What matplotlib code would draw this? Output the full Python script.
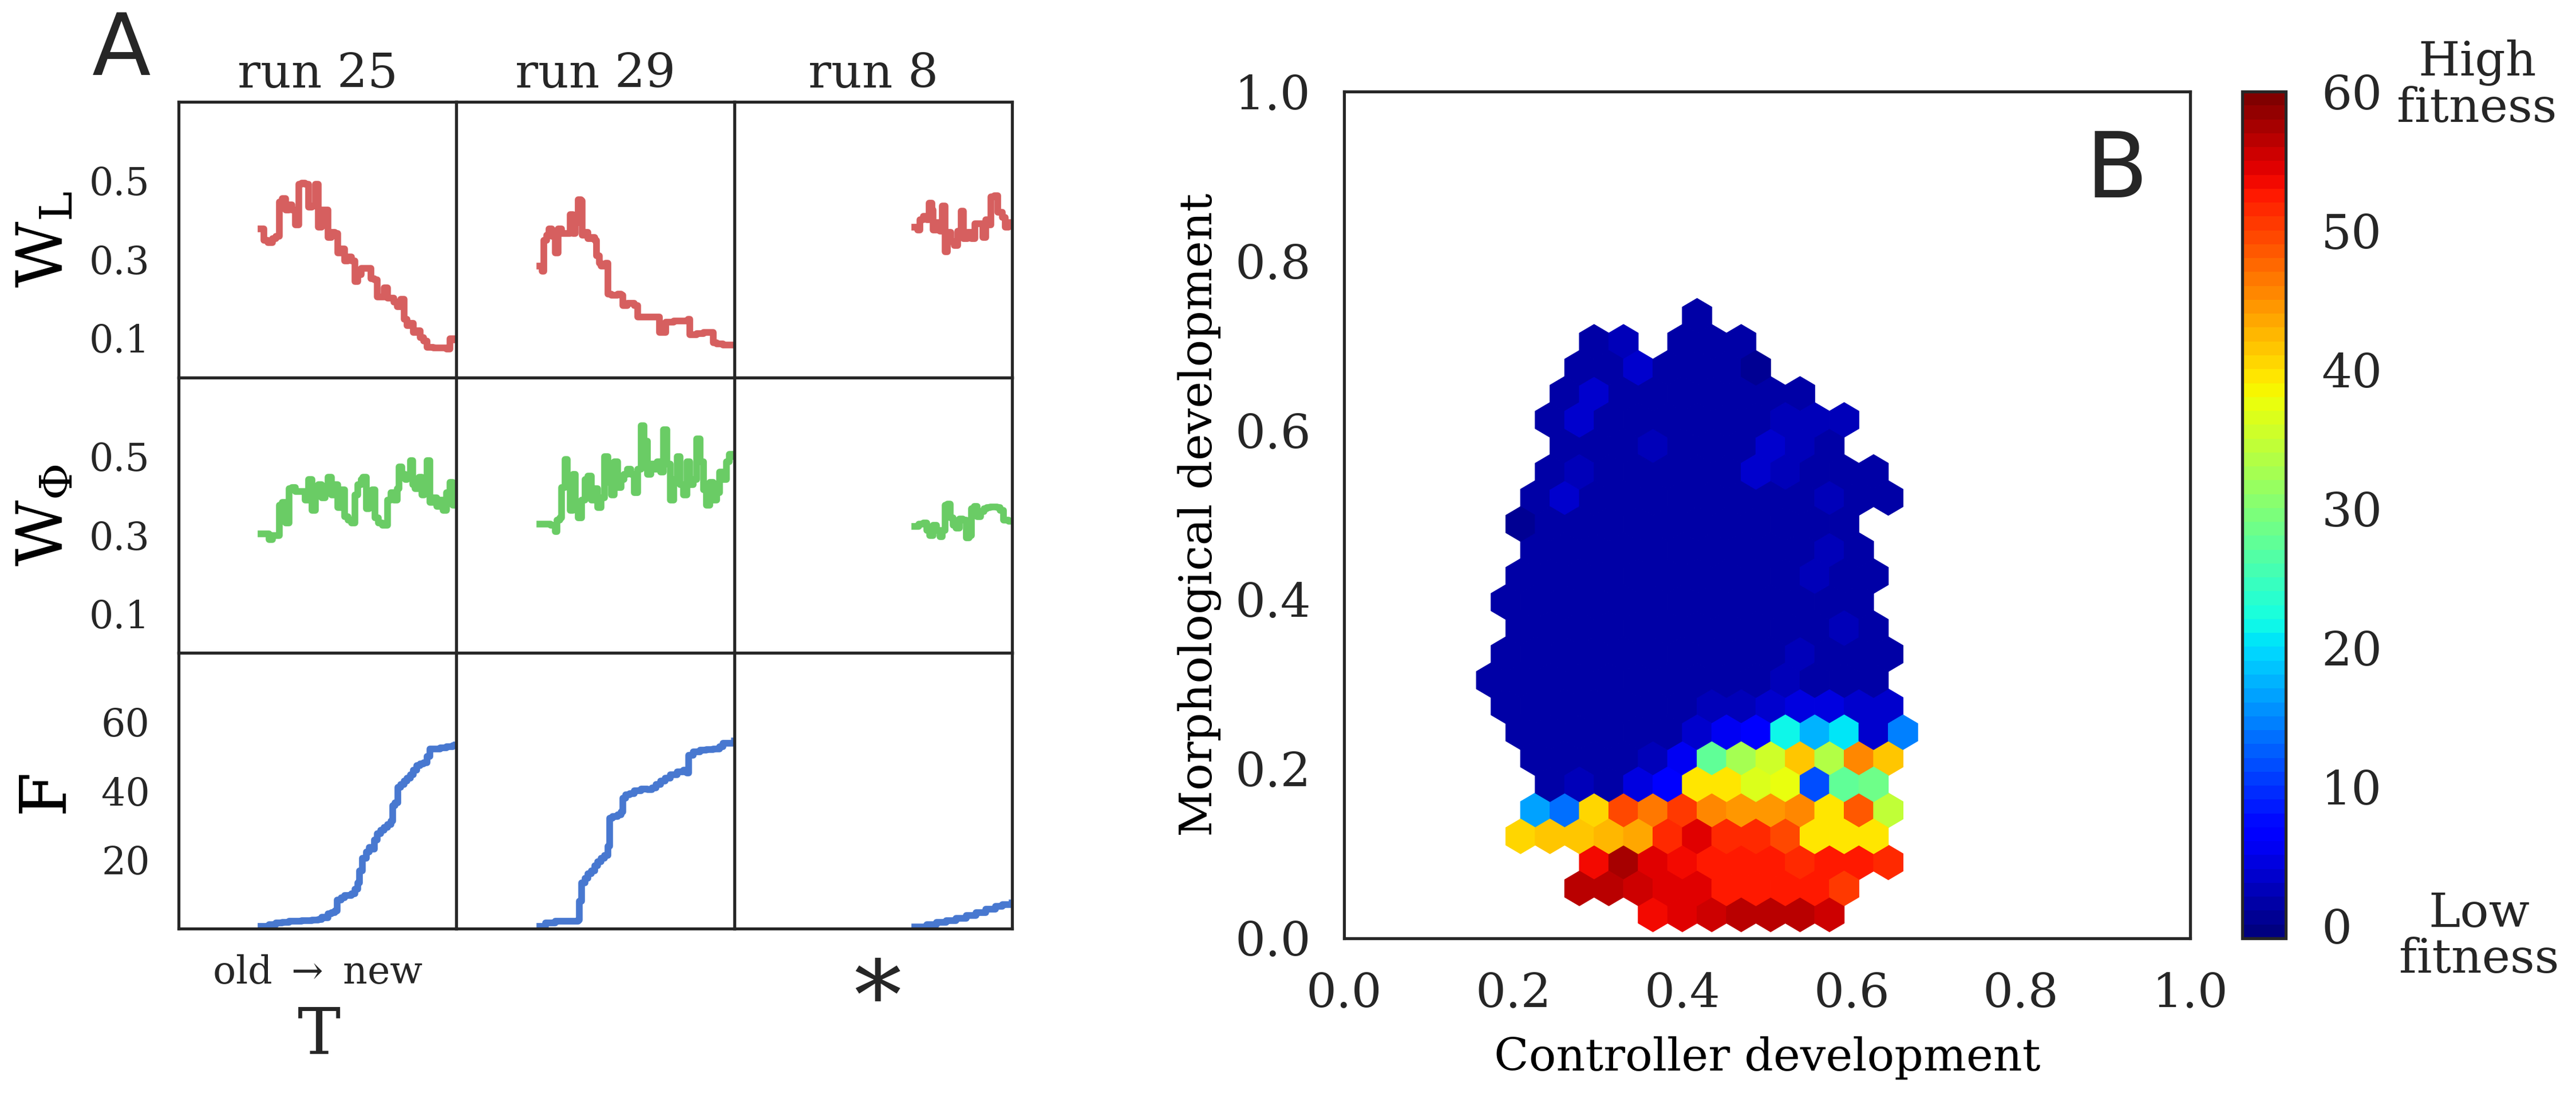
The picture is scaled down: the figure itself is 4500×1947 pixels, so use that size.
import numpy as np
import matplotlib
matplotlib.use("Agg")
import matplotlib.pyplot as plt

plt.rcParams["font.family"] = "serif"
plt.rcParams["font.serif"] = ["DejaVu Serif"]
plt.rcParams["mathtext.fontset"] = "dejavuserif"
plt.rcParams["axes.edgecolor"] = "#262626"
plt.rcParams["axes.linewidth"] = 1.25
plt.rcParams["text.color"] = "#262626"
plt.rcParams["xtick.color"] = "#262626"
plt.rcParams["ytick.color"] = "#262626"
plt.rcParams["xtick.major.size"] = 0
plt.rcParams["ytick.major.size"] = 0

RED, GREEN, BLUE = "#d65f5f", "#6acc65", "#4878d0"

run_names = ["run 25", "run 29", "run 8"]

# ---- panel A: time as % of the plotted window ----
wl25_t = [29.8, 30.7, 32.2, 33.8, 35.0, 36.2, 37.4, 38.5, 39.7, 40.9, 42.1, 43.3, 44.4, 45.6,
          46.8, 48.0, 49.2, 50.4, 51.5, 52.7, 53.9, 55.1, 56.3, 57.4, 58.6, 59.8, 61.0, 62.2,
          63.4, 64.5, 65.7, 68.1, 69.3, 70.4, 71.6, 72.8, 74.0, 75.2, 77.5, 78.7, 79.9, 81.1,
          82.3, 83.5, 84.6, 85.8, 87.0, 88.2, 89.4, 91.7, 94.1, 96.5, 97.6, 98.8, 100.0]
wl25 = [0.377, 0.348, 0.342, 0.352, 0.358, 0.446, 0.455, 0.426, 0.439, 0.426, 0.387, 0.491,
        0.494, 0.491, 0.433, 0.436, 0.491, 0.381, 0.426, 0.426, 0.355, 0.368, 0.365, 0.316,
        0.326, 0.296, 0.306, 0.296, 0.244, 0.261, 0.277, 0.277, 0.251, 0.248, 0.205, 0.205,
        0.228, 0.202, 0.192, 0.179, 0.199, 0.147, 0.131, 0.137, 0.114, 0.118, 0.101, 0.092,
        0.077, 0.075, 0.075, 0.072, 0.098, 0.098, 0.095]

wl29_t = [30.1, 30.8, 31.5, 32.5, 33.4, 34.4, 35.5, 36.7, 37.9, 39.1, 40.3, 41.0, 41.9, 42.9,
          43.8, 44.8, 45.3, 46.2, 47.4, 48.6, 49.8, 50.5, 51.4, 52.1, 53.8, 54.5, 55.7, 58.1,
          59.2, 60.0, 61.6, 64.0, 65.2, 67.5, 69.9, 72.3, 73.0, 74.6, 75.4, 78.2, 81.8, 83.4,
          84.1, 86.5, 88.9, 91.2, 92.4, 93.6, 96.0, 100.0]
wl29 = [0.283, 0.270, 0.348, 0.361, 0.377, 0.358, 0.316, 0.377, 0.365, 0.365, 0.365, 0.413,
        0.365, 0.394, 0.452, 0.449, 0.361, 0.368, 0.352, 0.355, 0.348, 0.309, 0.290, 0.283,
        0.290, 0.212, 0.209, 0.212, 0.209, 0.183, 0.189, 0.183, 0.153, 0.153, 0.153, 0.153,
        0.114, 0.114, 0.140, 0.144, 0.144, 0.147, 0.108, 0.111, 0.114, 0.114, 0.088, 0.085,
        0.082, 0.082]

wl8_t = [65.0, 66.0, 66.9, 68.1, 69.3, 70.2, 71.2, 71.6, 72.8, 74.0, 74.9, 75.9, 76.8, 78.0,
         79.2, 80.4, 81.6, 82.5, 83.9, 85.3, 86.5, 88.2, 89.4, 90.5, 91.5, 92.4, 93.6, 94.8,
         96.5, 97.6, 98.8, 100.0]
wl8 = [0.381, 0.374, 0.400, 0.410, 0.400, 0.442, 0.426, 0.374, 0.394, 0.371, 0.436, 0.319,
       0.368, 0.345, 0.335, 0.371, 0.423, 0.352, 0.368, 0.352, 0.391, 0.391, 0.355, 0.400,
       0.387, 0.459, 0.462, 0.420, 0.407, 0.381, 0.394, 0.387]

wp25_t = [29.8, 31.4, 32.6, 33.8, 35.0, 36.2, 37.4, 38.5, 39.7, 40.9, 42.1, 44.4, 45.6, 46.8,
          48.0, 49.2, 50.4, 51.5, 52.7, 53.9, 55.1, 56.3, 57.4, 58.6, 59.8, 61.0, 62.2, 63.4,
          64.5, 65.7, 66.4, 67.6, 68.6, 69.7, 70.7, 71.9, 73.3, 74.2, 75.2, 76.4, 77.5, 78.7,
          79.4, 80.4, 81.6, 82.3, 83.5, 84.2, 85.1, 86.5, 87.5, 88.4, 89.4, 90.5, 91.7, 92.9,
          94.1, 95.3, 96.5, 97.6, 98.8, 100.0]
wp25 = [0.303, 0.303, 0.288, 0.298, 0.298, 0.376, 0.382, 0.330, 0.418, 0.421, 0.410, 0.410,
        0.389, 0.441, 0.363, 0.402, 0.428, 0.395, 0.408, 0.447, 0.402, 0.428, 0.369, 0.415,
        0.347, 0.337, 0.330, 0.402, 0.428, 0.441, 0.447, 0.366, 0.402, 0.415, 0.343, 0.330,
        0.324, 0.324, 0.389, 0.408, 0.389, 0.418, 0.473, 0.454, 0.441, 0.447, 0.489, 0.428,
        0.418, 0.447, 0.402, 0.428, 0.489, 0.382, 0.395, 0.373, 0.389, 0.363, 0.408, 0.434,
        0.376, 0.408]

wp29_t = [30.1, 32.0, 33.9, 35.5, 36.3, 37.2, 37.9, 39.1, 40.0, 41.0, 41.9, 42.9, 43.8, 45.0,
          46.2, 47.4, 48.6, 49.8, 50.9, 52.1, 53.3, 54.5, 55.7, 56.9, 58.1, 59.2, 60.4, 61.6,
          62.8, 64.0, 65.2, 66.4, 67.5, 68.7, 69.9, 71.1, 72.3, 73.5, 74.6, 75.8, 77.0, 78.2,
          79.4, 80.6, 81.8, 82.9, 84.1, 85.3, 86.5, 87.7, 88.9, 90.0, 91.2, 92.4, 93.6, 94.8,
          96.0, 97.2, 98.3, 100.0]
wp29 = [0.327, 0.327, 0.324, 0.308, 0.337, 0.343, 0.421, 0.492, 0.428, 0.363, 0.454, 0.376,
        0.343, 0.389, 0.441, 0.450, 0.389, 0.418, 0.369, 0.395, 0.499, 0.434, 0.402, 0.486,
        0.421, 0.441, 0.454, 0.467, 0.454, 0.408, 0.467, 0.577, 0.538, 0.454, 0.480, 0.467,
        0.486, 0.460, 0.567, 0.480, 0.389, 0.441, 0.499, 0.428, 0.402, 0.486, 0.428, 0.441,
        0.544, 0.486, 0.415, 0.376, 0.434, 0.389, 0.408, 0.460, 0.441, 0.486, 0.505, 0.499]

wp8_t = [65.0, 66.4, 68.1, 69.3, 70.4, 71.6, 72.8, 74.0, 74.9, 75.9, 76.8, 77.8, 78.7, 79.9,
         81.1, 82.3, 83.5, 84.6, 85.3, 86.3, 87.5, 88.7, 89.8, 91.0, 92.2, 93.4, 94.6, 95.7,
         96.9, 98.8, 100.0]
wp8 = [0.321, 0.327, 0.330, 0.311, 0.298, 0.324, 0.311, 0.295, 0.311, 0.376, 0.379, 0.343,
       0.324, 0.318, 0.340, 0.337, 0.292, 0.298, 0.366, 0.373, 0.347, 0.360, 0.366, 0.369,
       0.371, 0.371, 0.369, 0.363, 0.337, 0.334, 0.334]

f25_t = [29.8, 32.6, 35.0, 37.4, 39.7, 44.4, 48.0, 50.4, 51.5, 52.7, 53.9, 55.1, 56.3, 57.0,
         58.6, 59.8, 62.2, 63.4, 64.5, 65.2, 66.2, 67.6, 68.6, 69.5, 70.4, 71.6, 72.8, 74.0,
         75.2, 76.4, 77.1, 78.0, 79.0, 79.9, 81.1, 82.3, 83.5, 84.6, 85.8, 87.0, 88.2, 89.4,
         90.5, 91.7, 94.1, 96.5, 98.8, 100.0]
f25 = [0.7, 1.2, 1.6, 1.8, 2.1, 2.3, 2.5, 2.7, 3.4, 3.2, 4.3, 4.7, 5.2, 8.3, 9.0, 9.7, 10.1,
       11.5, 13.3, 16.8, 20.4, 22.2, 23.6, 23.1, 25.8, 27.6, 28.5, 29.4, 30.3, 31.2, 35.7,
       36.6, 41.0, 41.9, 42.8, 43.7, 44.6, 46.0, 47.3, 47.8, 48.2, 50.0, 52.2, 52.2, 52.5,
       52.9, 53.1, 53.3]

f29_t = [30.1, 32.0, 35.5, 39.1, 42.7, 43.8, 44.3, 45.0, 46.2, 47.4, 48.6, 49.8, 50.9, 52.1,
         53.3, 54.5, 55.2, 56.2, 58.1, 59.2, 60.0, 60.9, 62.3, 64.0, 66.4, 68.7, 70.4, 71.8,
         73.5, 75.1, 77.0, 79.4, 81.8, 82.9, 83.6, 85.3, 87.7, 90.0, 92.4, 94.8, 96.0, 100.0]
f29 = [0.7, 1.6, 2.1, 2.1, 2.2, 2.5, 7.9, 13.3, 14.6, 15.9, 16.8, 18.2, 19.5, 20.4, 21.3,
       24.0, 32.1, 32.5, 33.0, 33.9, 37.9, 38.8, 39.2, 40.1, 40.6, 40.3, 40.9, 41.9, 42.8,
       43.7, 44.6, 45.5, 46.0, 45.1, 50.4, 51.3, 51.8, 52.0, 52.2, 52.9, 53.8, 54.5]

f8_t = [65.0, 69.3, 72.8, 76.4, 79.9, 83.5, 87.0, 90.5, 94.1, 96.5, 100.0]
f8 = [0.5, 1.2, 1.8, 2.3, 3.0, 3.9, 4.7, 5.6, 6.5, 7.0, 7.4]

# ---- panel B: hexagon cells (controller dev, morphological dev, mean fitness) ----
morph_rows = [0.028, 0.059, 0.090, 0.120, 0.151, 0.182, 0.213, 0.243, 0.274, 0.305, 0.336,
              0.366, 0.397, 0.428, 0.459, 0.489, 0.520, 0.551, 0.582, 0.612, 0.643, 0.674,
              0.705, 0.735]
ctrl_rows = [
    [.365, .400, .435, .469, .504, .539, .574],
    [.278, .313, .348, .382, .417, .452, .487, .522, .556, .591],
    [.295, .330, .365, .400, .435, .469, .504, .539, .574, .608, .643],
    [.208, .243, .278, .313, .348, .382, .417, .452, .487, .522, .556, .591, .626],
    [.226, .261, .295, .330, .365, .400, .435, .469, .504, .539, .574, .608, .643],
    [.243, .278, .313, .348, .382, .417, .452, .487, .522, .556, .591, .626],
    [.226, .261, .295, .330, .365, .400, .435, .469, .504, .539, .574, .608, .643],
    [.208, .243, .278, .313, .348, .382, .417, .452, .487, .522, .556, .591, .626, .661],
    [.191, .226, .261, .295, .330, .365, .400, .435, .469, .504, .539, .574, .608, .643],
    [.174, .208, .243, .278, .313, .348, .382, .417, .452, .487, .522, .556, .591, .626],
    [.191, .226, .261, .295, .330, .365, .400, .435, .469, .504, .539, .574, .608, .643],
    [.208, .243, .278, .313, .348, .382, .417, .452, .487, .522, .556, .591, .626],
    [.191, .226, .261, .295, .330, .365, .400, .435, .469, .504, .539, .574, .608],
    [.208, .243, .278, .313, .348, .382, .417, .452, .487, .522, .556, .591, .626],
    [.226, .261, .295, .330, .365, .400, .435, .469, .504, .539, .574, .608],
    [.208, .243, .278, .313, .348, .382, .417, .452, .487, .522, .556, .591],
    [.226, .261, .295, .330, .365, .400, .435, .469, .504, .539, .574, .608, .643],
    [.243, .278, .313, .348, .382, .417, .452, .487, .522, .556, .591, .626],
    [.261, .295, .330, .365, .400, .435, .469, .504, .539, .574],
    [.243, .278, .313, .348, .382, .417, .452, .487, .522, .556, .591],
    [.261, .295, .330, .365, .400, .435, .469, .504, .539],
    [.278, .313, .348, .382, .417, .452, .487],
    [.295, .330, .400, .435, .469],
    [.417],
]
fit_rows = [
    [53.5, 55, 56, 56.5, 57, 57, 56],
    [56.5, 56.5, 56, 55, 55, 53, 53, 53, 52.5, 50.5],
    [54, 58, 55, 54, 53, 52.5, 53, 52, 53, 52.5, 51.5],
    [40.5, 42, 41.5, 42.5, 43.5, 51.3, 54.5, 52, 51.3, 50, 39.5, 39.5, 40],
    [16.5, 14, 40.5, 50, 46.5, 51, 46, 44.5, 45, 46, 39.5, 49, 34.5],
    [1.7, 2.2, 1.7, 4.5, 7.0, 39.5, 40, 36.5, 37.5, 12, 27.5, 29],
    [1.3, 1.3, 1.3, 1.3, 3.0, 5.2, 27.5, 32.5, 36, 41.5, 34, 46, 41.5],
    [1.3, 1.3, 1.3, 1.3, 1.5, 1.8, 3.8, 5.2, 7.0, 21.5, 17.5, 21, 3.8, 14.7],
    [1.3, 1.3, 1.3, 1.3, 1.4, 1.4, 1.8, 2.6, 3.0, 3.6, 5.0, 4.6, 4.0, 3.6],
    [1.1, 1.3, 1.3, 1.3, 1.3, 1.4, 1.5, 1.7, 1.7, 1.8, 2.6, 1.8, 1.7, 1.8],
    [1.5, 1.5, 1.5, 1.6, 1.7, 1.7, 1.8, 1.8, 1.8, 2.0, 3.0, 1.8, 1.8, 2.0],
    [1.6, 1.6, 1.6, 1.6, 1.7, 1.8, 1.8, 1.8, 1.8, 1.8, 1.9, 2.8, 1.9],
    [1.4, 1.5, 1.5, 1.5, 1.6, 1.7, 1.8, 1.7, 1.7, 1.8, 1.9, 2.0, 1.9],
    [1.6, 1.6, 1.6, 1.6, 1.7, 1.8, 1.8, 1.8, 1.8, 1.8, 2.6, 1.9, 1.9],
    [1.5, 1.6, 1.6, 1.7, 1.7, 1.8, 1.8, 1.8, 1.8, 1.9, 2.6, 1.9],
    [0.9, 1.8, 1.7, 1.8, 1.8, 2.0, 1.7, 1.7, 1.7, 2.0, 2.0, 2.0],
    [2.0, 3.6, 2.0, 1.7, 2.0, 1.7, 1.7, 1.5, 1.7, 2.0, 2.6, 2.0, 2.0],
    [1.7, 2.6, 1.7, 1.7, 2.0, 1.7, 1.5, 3.6, 3.0, 2.0, 1.7, 2.0],
    [1.7, 2.0, 2.0, 2.6, 1.7, 1.7, 2.0, 3.6, 2.6, 2.0],
    [1.5, 3.6, 1.7, 2.0, 2.0, 1.7, 1.7, 1.3, 2.6, 2.6, 2.6],
    [1.3, 3.6, 1.5, 1.7, 1.9, 1.5, 2.0, 1.7, 1.3],
    [1.3, 1.5, 3.6, 1.7, 1.5, 1.5, 0.9],
    [1.7, 2.6, 2.0, 1.3, 1.3],
    [2.0],
]

fig = plt.figure(figsize=(15, 6.49), dpi=300)

# ---------------- panel A ----------------
gs = fig.add_gridspec(3, 3, left=0.0693, right=0.3929, top=0.9086, bottom=0.1664,
                      wspace=0, hspace=0)
rows = [
    (r"W$_\mathrm{L}$", RED, (0, 0.7), [0.1, 0.3, 0.5],
     [(wl25_t, wl25), (wl29_t, wl29), (wl8_t, wl8)]),
    (r"W$_\Phi$", GREEN, (0, 0.7), [0.1, 0.3, 0.5],
     [(wp25_t, wp25), (wp29_t, wp29), (wp8_t, wp8)]),
    ("F", BLUE, (0, 80), [20, 40, 60],
     [(f25_t, f25), (f29_t, f29), (f8_t, f8)]),
]
for i, (label, color, ylim, yticks, series) in enumerate(rows):
    for j, (t, v) in enumerate(series):
        ax = fig.add_subplot(gs[i, j])
        ax.plot(t, v, color=color, lw=2.8, drawstyle="steps-post")
        ax.set_xlim(0, 100)
        ax.set_ylim(*ylim)
        ax.set_xticks([])
        ax.set_yticks(yticks)
        if j == 0:
            ax.tick_params(axis="y", labelsize=16, pad=12)
            ax.set_ylabel(label, fontsize=27)
            ax.yaxis.set_label_coords(-0.37, 0.5)
        else:
            ax.set_yticklabels([])
        if i == 0:
            ax.set_title(run_names[j], fontsize=20, pad=6)

fig.text(0.0471, 0.9538, "A", fontsize=36, family="DejaVu Sans", ha="center", va="center")
fig.text(0.1233, 0.1269, "old $\\rightarrow$ new", fontsize=16, ha="center", va="center")
fig.text(0.1238, 0.0700, "T", fontsize=27, ha="center", va="center")
fig.text(0.3407, 0.1000, "*", fontsize=40, ha="center", va="center")

# ---------------- panel B ----------------
ctrl_dev = np.concatenate([np.asarray(r, float) for r in ctrl_rows])
morph_dev = np.concatenate([np.full(len(r), m) for r, m in zip(ctrl_rows, morph_rows)])
fitness = np.concatenate([np.asarray(r, float) for r in fit_rows])

axb = fig.add_axes([0.5218, 0.1577, 0.3284, 0.7601])
cmap = matplotlib.colormaps["jet"].resampled(61)
hb = axb.hexbin(ctrl_dev, morph_dev, C=fitness, reduce_C_function=np.mean,
                gridsize=(20, 16), extent=(0.12154, 0.81714, -0.09476, 0.88892),
                cmap=cmap, vmin=-0.9, vmax=60, linewidths=0.3)
axb.set_xlim(0, 1)
axb.set_ylim(0, 1)
axb.set_xticks(np.arange(0, 1.01, 0.2))
axb.set_yticks(np.arange(0, 1.01, 0.2))
axb.tick_params(labelsize=20, pad=14)
axb.set_xlabel("Controller development", fontsize=19, labelpad=8)
axb.set_ylabel("Morphological development", fontsize=19)
axb.yaxis.set_label_coords(-0.145, 0.5)
axb.text(0.913, 0.905, "B", fontsize=38, family="DejaVu Sans", ha="center", va="center",
         transform=axb.transAxes)

cax = fig.add_axes([0.8704, 0.1577, 0.01689, 0.7601])
cb = fig.colorbar(hb, cax=cax, ticks=[0, 10, 20, 30, 40, 50, 60])
cb.outline.set_linewidth(1.25)
cb.outline.set_edgecolor("#262626")
cb.ax.tick_params(length=0, labelsize=20, pad=15)
fig.text(0.9616, 0.9230, "High\nfitness", fontsize=20, ha="center", va="center", linespacing=1.0)
fig.text(0.9624, 0.1592, "Low\nfitness", fontsize=20, ha="center", va="center", linespacing=1.0)

fig.savefig("out.png", dpi=300)
